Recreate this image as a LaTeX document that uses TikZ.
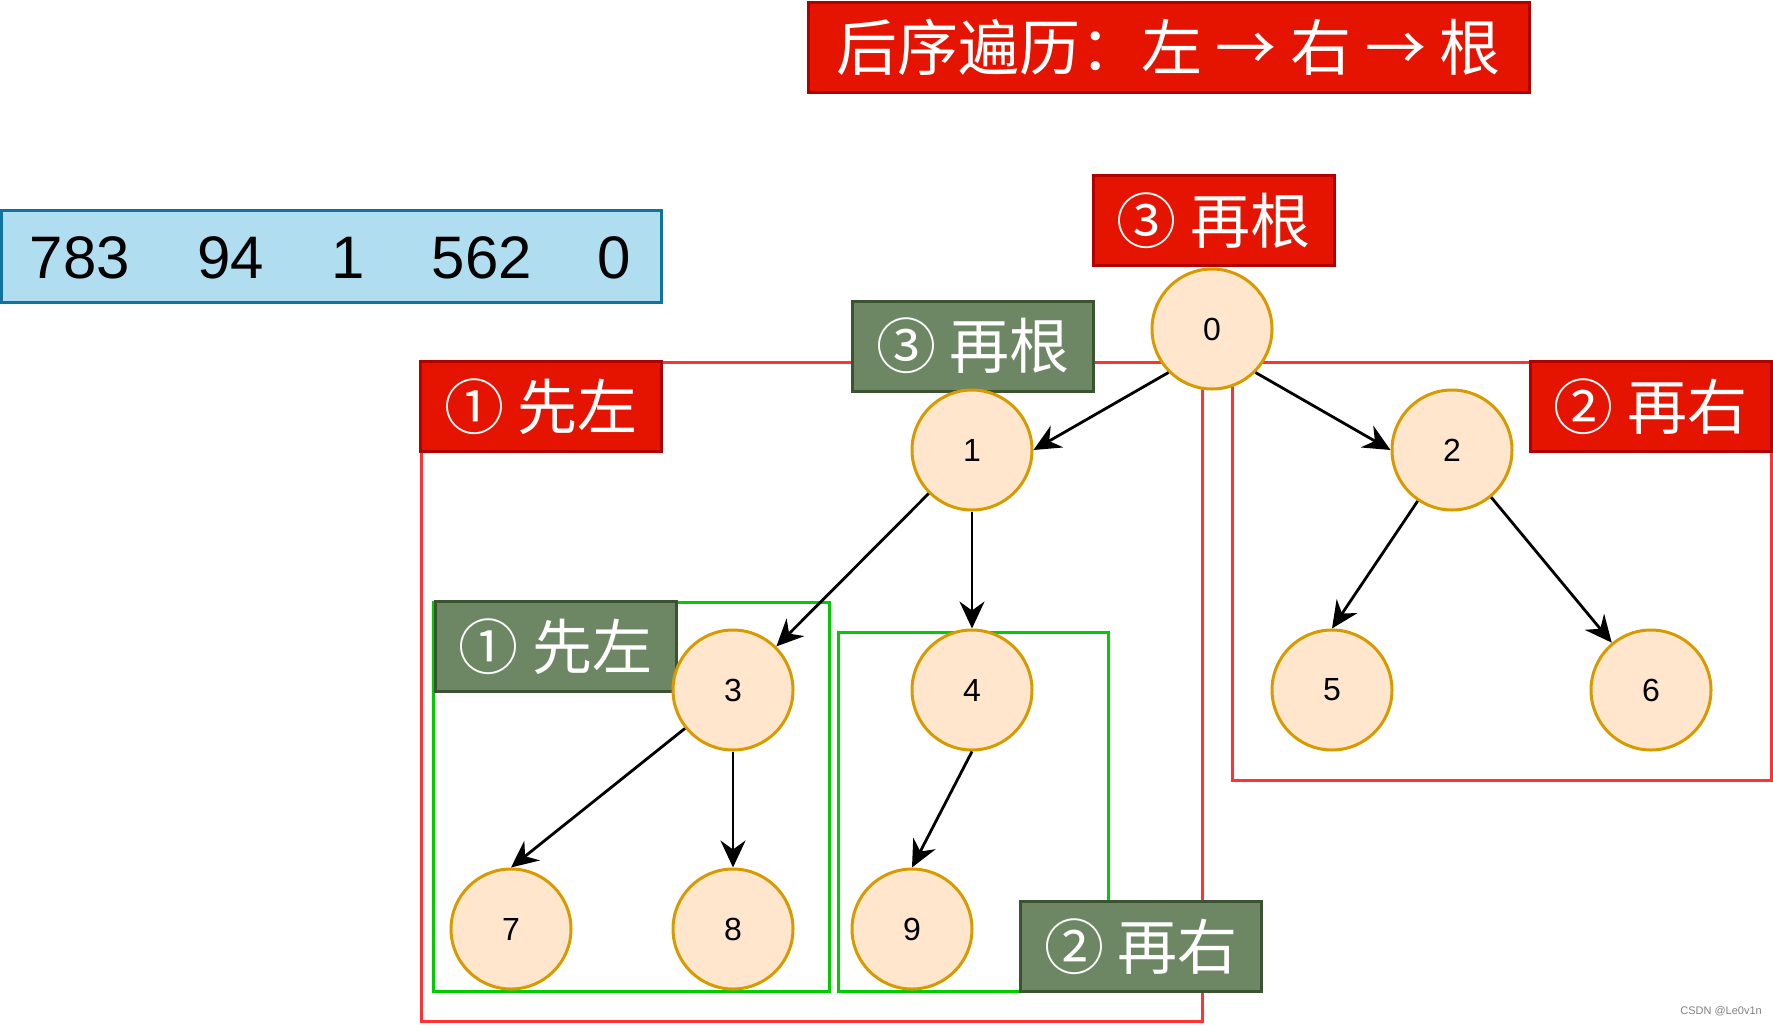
\documentclass[tikz,border=0pt]{standalone}
\usepackage{fontspec}
\setmainfont{Liberation Sans}
\newfontfamily\cjk{Noto Sans CJK SC}
\usetikzlibrary{arrows.meta}
\definecolor{rfill}{HTML}{E51400}
\definecolor{rdraw}{HTML}{B20000}
\definecolor{gfill}{HTML}{6D8764}
\definecolor{gdraw}{HTML}{3A5431}
\definecolor{cfill}{HTML}{FFE6CC}
\definecolor{cdraw}{HTML}{D79B00}
\definecolor{bfill}{HTML}{B1DDF0}
\definecolor{bdraw}{HTML}{10739E}
\definecolor{rline}{HTML}{FF3333}
\definecolor{gline}{HTML}{00CC00}
\tikzset{
  lab/.style={draw, line width=3pt, minimum width=241pt, minimum height=90pt, inner sep=0pt,
    text=white, font=\cjk\fontsize{60}{60}\selectfont},
  redlab/.style={lab, fill=rfill, draw=rdraw},
  greenlab/.style={lab, fill=gfill, draw=gdraw},
  tnode/.style={circle, minimum size=120pt, inner sep=0pt, fill=cfill, draw=cdraw, line width=3pt,
    font=\fontsize{32}{32}\selectfont},
  edge/.style={line width=2.8pt, -{Stealth[length=27pt,width=25pt,inset=9pt]}},
  redframe/.style={draw=rline, line width=3pt},
  greenframe/.style={draw=gline, line width=3pt},
  numtxt/.style={font=\fontsize{60}{60}\selectfont, inner sep=0pt}
}
\begin{document}
\begin{tikzpicture}[x=1pt,y=-1pt]
\useasboundingbox (0,0) rectangle (1773,1026);
% outline frames
\draw[redframe] (421,362) rectangle (1202,1021);
\draw[redframe] (1232,362) rectangle (1771,780);
\draw[greenframe] (433,602) rectangle (829,991);
\draw[greenframe] (838,632) rectangle (1108,991);
% title
\node[redlab, minimum width=721pt, font=\cjk\fontsize{61}{61}\selectfont] (title) at (1168.5,47) {后序遍历：左 → 右 → 根};
% number bar
\node[draw=bdraw, fill=bfill, line width=3pt, minimum width=660pt, minimum height=92pt, inner sep=0pt] (bar) at (331,256) {};
\node[numtxt] (s1) at (80,258) {783};
\node[numtxt] (s2) at (231,258) {94};
\node[numtxt] (s3) at (348,258) {1};
\node[numtxt] (s4) at (482,258) {562};
\node[numtxt] (s5) at (614,258) {0};
% labels
\node[redlab] (lroot) at (1213.5,220.5) {③ 再根};
\node[greenlab] (lroot1) at (973,346) {③ 再根};
\node[redlab] (lleft) at (541,406.5) {① 先左};
\node[redlab] (lright) at (1650.5,406.5) {② 再右};
\node[greenlab] (lleft1) at (555.5,646.5) {① 先左};
\node[greenlab] (lright1) at (1141,946.5) {② 再右};
% tree nodes
\node[tnode] (n0) at (1212,329) {0};
\node[tnode] (n1) at (972,450) {1};
\node[tnode] (n2) at (1452,450) {2};
\node[tnode] (n3) at (733,690) {3};
\node[tnode] (n4) at (972,690) {4};
\node[tnode] (n5) at (1332,690) {5};
\node[tnode] (n6) at (1651,690) {6};
\node[tnode] (n7) at (511,929) {7};
\node[tnode] (n8) at (733,929) {8};
\node[tnode] (n9) at (912,929) {9};
% edges
\draw[edge] (n0.225) -- (n1.east);
\draw[edge] (n0.-45) -- (n2.west);
\draw[edge] (n1) -- (n3);
\draw[edge] (n1) -- (n4);
\draw[edge] (n2) -- (n5.north);
\draw[edge] (n2) -- (n6);
\draw[edge] (n3) -- (n7.north);
\draw[edge] (n3) -- (n8);
\draw[edge] (n4.south) -- (n9.north);
% watermark
\node[text=gray, font=\fontsize{11}{11}\selectfont, anchor=east, inner sep=0pt] (wm) at (1762,1011) {CSDN @Le0v1n};
\end{tikzpicture}
\end{document}
